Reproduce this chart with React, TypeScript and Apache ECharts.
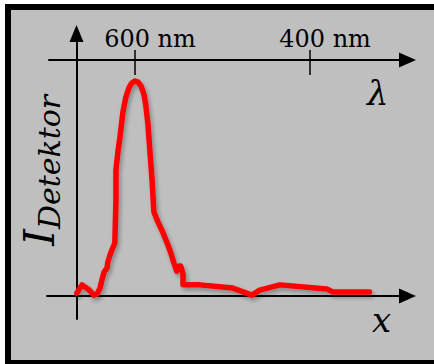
import React, { useEffect, useRef } from 'react';
import * as echarts from 'echarts';

// Position along the detector (arbitrary units) and measured intensity (arbitrary units)
const positionX = [0.1, 1.5, 3.4, 4.7, 5.6, 6.4, 6.9, 7.5, 8.3, 8.5, 9.1, 9.6, 10.4, 10.7, 10.7, 11.3, 11.8, 12.6, 13.4, 14.2, 15.0, 15.9, 16.7, 17.5, 18.3, 18.8, 19.4, 19.9, 20.5, 21.0, 22.1, 23.4, 24.8, 25.6, 26.4, 27.2, 27.8, 28.3, 28.9, 28.9, 33.5, 42.4, 47.6, 49.7, 55.2, 67.9, 69.5, 79.5];
const intensity = [1.0, 3.8, 2.1, 0.3, 0.7, 2.7, 5.5, 8.2, 9.6, 11.6, 14.0, 15.7, 18.1, 32.8, 43.0, 49.8, 54.3, 62.8, 67.9, 71.0, 72.7, 73.4, 73.0, 71.7, 68.9, 65.2, 58.4, 49.8, 39.6, 28.7, 25.3, 21.8, 17.4, 14.7, 11.3, 8.5, 10.2, 10.2, 7.5, 3.8, 3.8, 2.7, 0.3, 2.0, 3.8, 2.4, 1.4, 1.4];

// Wavelength axis tick labels (nm)
const lambdaTicks = [600, 400];
const lambdaUnit = 'nm';

const axisNames = { x: 'x', lambda: 'λ', yMain: 'I', ySub: 'Detektor' };

export default function App() {
  const ref = useRef<HTMLDivElement>(null);
  useEffect(() => {
    const chart = echarts.init(ref.current as HTMLDivElement, null, { renderer: 'svg' });
    const font = 'DejaVu Serif';
    const black = '#000';
    const shadow = { shadowColor: 'rgba(0,0,0,0.3)', shadowBlur: 4, shadowOffsetX: 2, shadowOffsetY: 3 };
    chart.setOption({
      animation: false,
      graphic: [
        {
          type: 'rect',
          z: -100,
          silent: true,
          shape: { x: 8, y: 7, width: 432, height: 356 },
          style: { fill: '#bfbfbf', stroke: '#000', lineWidth: 6 },
        },
      ],
      grid: [
        { left: 47, right: 26.5, top: 33.5, bottom: 45, containLabel: false, outerBoundsMode: 'none' },
        { left: 49, right: 26.5, top: 60, height: 100, containLabel: false, outerBoundsMode: 'none' },
      ],
      xAxis: [
        {
          gridIndex: 0,
          type: 'value',
          min: -8,
          max: 89.8,
          axisLine: {
            show: true,
            onZero: true,
            symbol: ['none', 'triangle'],
            symbolSize: [15, 17],
            lineStyle: { color: black, width: 2 },
          },
          axisTick: { show: false },
          axisLabel: { show: false },
          splitLine: { show: false },
          name: axisNames.x,
          nameLocation: 'end',
          nameGap: -35.5,
          nameTextStyle: {
            fontFamily: font,
            fontStyle: 'italic',
            fontSize: 34,
            color: black,
            align: 'left',
            verticalAlign: 'top',
            padding: [7, 0, 0, 0],
          },
        },
        {
          gridIndex: 1,
          type: 'value',
          position: 'top',
          inverse: true,
          min: 288.6,
          max: 698.3,
          axisLine: {
            show: true,
            onZero: false,
            symbol: ['none', 'triangle'],
            symbolSize: [15, 17],
            lineStyle: { color: black, width: 2 },
          },
          axisTick: {
            show: true,
            customValues: lambdaTicks,
            length: 10,
            inside: false,
            lineStyle: { color: black, width: 1.5 },
          },
          axisLabel: {
            show: true,
            customValues: lambdaTicks,
            formatter: (v: number) => `${v} ${lambdaUnit}`,
            fontFamily: font,
            fontSize: 24,
            color: black,
            margin: 9,
            padding: [0, 0, 0, 30],
          },
          splitLine: { show: false },
          name: axisNames.lambda,
          nameLocation: 'start',
          nameGap: -40.5,
          nameTextStyle: {
            fontFamily: font,
            fontStyle: 'italic',
            fontSize: 34,
            color: black,
            align: 'left',
            verticalAlign: 'top',
            padding: [16, 0, 0, 0],
          },
        },
        {
          gridIndex: 1,
          type: 'value',
          position: 'top',
          inverse: true,
          min: 288.6,
          max: 698.3,
          axisLine: { show: false, onZero: false },
          axisTick: {
            show: true,
            customValues: lambdaTicks,
            length: 15,
            inside: true,
            lineStyle: { color: black, width: 1.5 },
          },
          axisLabel: { show: false },
          splitLine: { show: false },
        },
      ],
      yAxis: [
        {
          gridIndex: 0,
          type: 'value',
          min: -7.85,
          max: 89.6,
          axisLine: {
            show: true,
            onZero: true,
            symbol: ['none', 'triangle'],
            symbolSize: [14, 17],
            lineStyle: { color: black, width: 2 },
          },
          axisTick: { show: false },
          axisLabel: { show: false },
          splitLine: { show: false },
          name: `{i|${axisNames.yMain}}{s|${axisNames.ySub}}`,
          nameLocation: 'middle',
          nameRotate: 90,
          nameGap: -16,
          nameTextStyle: {
            fontFamily: font,
            fontStyle: 'italic',
            color: black,
            padding: [0, 0, 0, 12],
            rich: {
              i: { fontFamily: font, fontStyle: 'italic', fontSize: 42, lineHeight: 48, color: black },
              s: { fontFamily: font, fontStyle: 'italic', fontSize: 30, lineHeight: 20, padding: [24, 0, 4, 0], color: black },
            },
          },
        },
        { gridIndex: 1, type: 'value', show: false, min: 0, max: 1 },
      ],
      series: [
        {
          type: 'line',
          xAxisIndex: 0,
          yAxisIndex: 0,
          data: positionX.map((x, i) => [x, intensity[i]]),
          showSymbol: false,
          symbol: 'none',
          smooth: false,
          lineStyle: { color: '#ff0000', width: 5.5, join: 'round', cap: 'round', ...shadow },
          z: 5,
        },
      ],
    });
    return () => chart.dispose();
  }, []);
  return (
    <div style={{ position: 'fixed', left: 0, top: 0, width: 434, height: 364, background: '#fff' }}>
      <div ref={ref} style={{ width: 434, height: 364 }} />
    </div>
  );
}
